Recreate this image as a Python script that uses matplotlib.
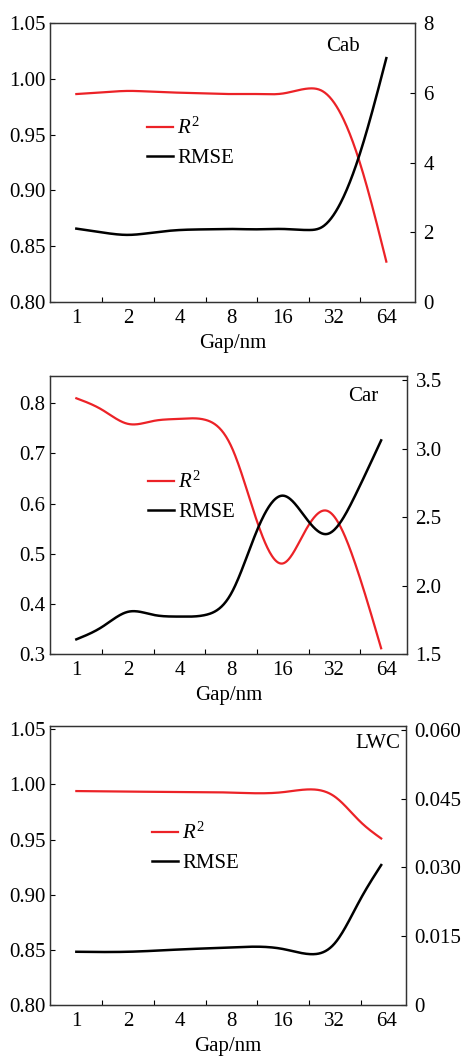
import numpy as np
import matplotlib
matplotlib.use("Agg")
import matplotlib.pyplot as plt
from matplotlib.lines import Line2D

plt.rcParams['font.family'] = ['Liberation Serif', 'DejaVu Serif']
plt.rcParams['mathtext.fontset'] = 'custom'
plt.rcParams['mathtext.rm'] = 'Liberation Serif'
plt.rcParams['mathtext.it'] = 'Liberation Serif:italic'

# x positions are log2(gap), tick labels are the gap values
gap_labels = ['1', '2', '4', '8', '16', '32', '64']

# Cab
cab_pos = [0, 0.5, 1, 1.5, 2, 2.5, 3, 3.5, 4, 4.5, 4.75, 5, 5.5, 6]
cab_r2 = [0.9865, 0.988, 0.9893, 0.9885, 0.9877, 0.987, 0.9865, 0.9865, 0.987,
          0.9915, 0.9895, 0.978, 0.923, 0.836]
cab_rmse = [2.10, 1.99, 1.92, 1.99, 2.06, 2.08, 2.09, 2.08, 2.09,
            2.06, 2.14, 2.54, 4.31, 7.0]

# Car
car_pos = [0, 0.5, 1, 1.5, 2, 2.5, 3, 3.5, 4, 4.4, 4.85, 5.4, 5.9]
car_r2 = [0.81, 0.787, 0.759, 0.765, 0.769, 0.767, 0.714, 0.564, 0.481,
          0.54, 0.586, 0.48, 0.312]
car_rmse = [1.609, 1.70, 1.81, 1.787, 1.775, 1.787, 1.945, 2.406, 2.657,
            2.516, 2.377, 2.66, 3.06]

# LWC
lwc_pos = [0, 1, 2, 3, 4, 4.5, 5, 5.5, 5.9]
lwc_r2 = [0.994, 0.9935, 0.9932, 0.9926, 0.993, 0.9955, 0.989, 0.966, 0.951]
lwc_rmse = [0.0116, 0.0116, 0.0121, 0.01255, 0.0122, 0.0111, 0.01343, 0.0231, 0.0305]

RED = '#ec2227'
FS = 15


def spline(x, y, n=400):
    # natural cubic spline, numpy only
    x = np.asarray(x, float)
    y = np.asarray(y, float)
    h = np.diff(x)
    m = len(x)
    A = np.zeros((m, m))
    b = np.zeros(m)
    A[0, 0] = A[-1, -1] = 1
    for i in range(1, m - 1):
        A[i, i - 1] = h[i - 1]
        A[i, i] = 2 * (h[i - 1] + h[i])
        A[i, i + 1] = h[i]
        b[i] = 3 * ((y[i + 1] - y[i]) / h[i] - (y[i] - y[i - 1]) / h[i - 1])
    c = np.linalg.solve(A, b)
    xs = np.linspace(x[0], x[-1], n)
    k = np.clip(np.searchsorted(x, xs) - 1, 0, m - 2)
    dx = xs - x[k]
    bb = (y[k + 1] - y[k]) / h[k] - h[k] * (2 * c[k] + c[k + 1]) / 3
    d = (c[k + 1] - c[k]) / (3 * h[k])
    return xs, y[k] + bb * dx + c[k] * dx ** 2 + d * dx ** 3


fig = plt.figure(figsize=(4.71, 10.56), dpi=100)

panels = [
    # rect, pos, r2, rmse, name, name_xy, leg_xy, xmax, ylim, yticks, ylim2, yticks2, labels2
    ([0.1055, 0.7143, 0.7756, 0.2636], cab_pos, cab_r2, cab_rmse, 'Cab', (0.803, 0.915),
     (0.266, 0.66), 6.555, (0.80, 1.05), [0.80, 0.85, 0.90, 0.95, 1.00, 1.05],
     (0, 8), [0, 2, 4, 6, 8], ['0', '2', '4', '6', '8']),
    ([0.1055, 0.3804, 0.7592, 0.2636], car_pos, car_r2, car_rmse, 'Car', (0.876, 0.925),
     (0.275, 0.655), 6.406, (0.30, 0.8545), [0.3, 0.4, 0.5, 0.6, 0.7, 0.8],
     (1.5, 3.53), [1.5, 2.0, 2.5, 3.0, 3.5], ['1.5', '2.0', '2.5', '3.0', '3.5']),
    ([0.1055, 0.0483, 0.7565, 0.2642], lwc_pos, lwc_r2, lwc_rmse, 'LWC', (0.921, 0.939),
     (0.287, 0.653), 6.38, (0.80, 1.053), [0.80, 0.85, 0.90, 0.95, 1.00, 1.05],
     (0, 0.0608), [0, 0.015, 0.030, 0.045, 0.060], ['0', '0.015', '0.030', '0.045', '0.060']),
]

for (rect, pos, r2, rmse, name, name_xy, leg_xy, xmax, ylim, yticks,
     ylim2, yticks2, ylab2) in panels:
    ax = fig.add_axes(rect)
    ax2 = ax.twinx()

    xs, ys = spline(pos, r2)
    ax.plot(xs, ys, color=RED, lw=1.6)
    xs, ys = spline(pos, rmse)
    ax2.plot(xs, ys, color='black', lw=1.8)

    ax.set_xlim(-0.516, xmax)
    ax.set_ylim(*ylim)
    ax.set_yticks(yticks)
    ax.set_yticklabels(['%.2f' % v if ylim[0] > 0.5 else '%.1f' % v for v in yticks])
    ax2.set_ylim(*ylim2)
    ax2.set_yticks(yticks2)
    ax2.set_yticklabels(ylab2)

    ax.set_xticks(range(len(gap_labels)))
    ax.set_xticklabels(gap_labels)
    ax.set_xticks(np.arange(0.5, 6, 1), minor=True)
    ax.tick_params(axis='x', which='major', length=0, pad=5, labelsize=FS)
    ax.tick_params(axis='x', which='minor', direction='in', length=3.5, width=0.8)
    ax.tick_params(axis='y', direction='in', length=3.5, width=0.8, pad=3, labelsize=FS)
    ax2.tick_params(axis='y', direction='in', length=3.5, width=0.8, pad=6, labelsize=FS)
    ax.set_xlabel('Gap/nm', fontsize=FS, labelpad=4.5)

    for a in (ax, ax2):
        for s in a.spines.values():
            s.set_linewidth(0.9)
            s.set_color('#333333')

    ax2.text(name_xy[0], name_xy[1], name, transform=ax2.transAxes,
             ha='center', va='center', fontsize=FS)

    handles = [Line2D([], [], color=RED, lw=1.6),
               Line2D([], [], color='black', lw=1.8)]
    ax2.legend(handles, [r'$R^{2}$', 'RMSE'], loc='upper left', bbox_to_anchor=leg_xy,
               frameon=False, fontsize=FS, handlelength=1.25, handletextpad=0.2,
               labelspacing=0.45, borderpad=0, borderaxespad=0)

fig.savefig('out.png', dpi=100)
